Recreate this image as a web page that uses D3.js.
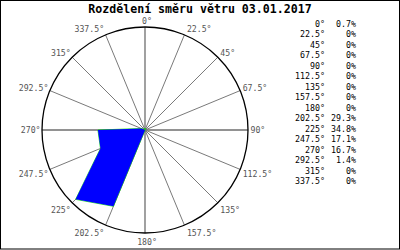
<!DOCTYPE html>
<html>
<head>
<meta charset="utf-8">
<script src="https://cdn.jsdelivr.net/npm/d3@7"></script>
<style>
  body { margin: 0; background: #fff; }
  svg { display: block; }
</style>
</head>
<body>
<script>
// wind direction distribution, one value per 22.5° sector
const directions = [0, 22.5, 45, 67.5, 90, 112.5, 135, 157.5, 180, 202.5, 225, 247.5, 270, 292.5, 315, 337.5];
const dirLabels = ["0°", "22.5°", "45°", "67.5°", "90°", "112.5°", "135°", "157.5°", "180°", "202.5°", "225°", "247.5°", "270°", "292.5°", "315°", "337.5°"];
const percents = [0.7, 0, 0, 0, 0, 0, 0, 0, 0, 29.3, 34.8, 17.1, 16.7, 1.4, 0, 0];
const pctLabels = ["0.7%", "0%", "0%", "0%", "0%", "0%", "0%", "0%", "0%", "29.3%", "34.8%", "17.1%", "16.7%", "1.4%", "0%", "0%"];
const title = "Rozdělení směru větru 03.01.2017";

const width = 400, height = 250;
const cx = 145, cy = 130, R = 103;
const mono = "'DejaVu Sans Mono', 'Liberation Mono', monospace";

const svg = d3.select("body").append("svg")
    .attr("width", width)
    .attr("height", height);

svg.append("rect")
    .attr("x", 0.5).attr("y", 0.5)
    .attr("width", width - 1).attr("height", height - 1.5)
    .attr("fill", "#fff")
    .attr("stroke", "#000");

svg.append("text")
    .attr("x", 200).attr("y", 13)
    .attr("text-anchor", "middle")
    .attr("font-family", mono)
    .attr("font-weight", "bold")
    .attr("font-size", 11.6)
    .text(title);

const angle = d3.scaleLinear().domain([0, 360]).range([0, 2 * Math.PI]);
const r = d3.scaleLinear().domain([0, d3.max(percents) * 1.05]).range([0, R]);

const g = svg.append("g").attr("transform", `translate(${cx},${cy})`);

// spokes
g.selectAll("line.spoke")
    .data(directions)
    .join("line")
    .attr("class", "spoke")
    .attr("x1", 0).attr("y1", 0)
    .attr("x2", d => R * Math.sin(angle(d)))
    .attr("y2", d => -R * Math.cos(angle(d)))
    .attr("stroke", d => d % 90 == 0 ? "#6e6e6e" : "#7a7a7a")
    .attr("stroke-width", d => d % 90 == 0 ? 1.3 : 1);

// data polygon
const radial = d3.lineRadial()
    .angle((d, i) => angle(directions[i]))
    .radius(d => r(d))
    .curve(d3.curveLinearClosed);

g.append("path")
    .datum(percents)
    .attr("d", radial)
    .attr("fill", "none")
    .attr("stroke", "#00dd00")
    .attr("stroke-width", 0.8);

g.append("path")
    .datum(percents)
    .attr("d", radial)
    .attr("fill", "#0000ff");

g.append("circle")
    .attr("r", R)
    .attr("fill", "none")
    .attr("stroke", "#000")
    .attr("stroke-width", 1.3);

// direction labels round the circle
g.selectAll("text.dir")
    .data(directions)
    .join("text")
    .attr("class", "dir")
    .attr("font-family", mono)
    .attr("font-size", 8.2)
    .attr("fill", "#555")
    .attr("dominant-baseline", "central")
    .attr("text-anchor", d => {
        let s = Math.sin(angle(d));
        return Math.abs(s) < 0.01 ? "middle" : (s > 0 ? "start" : "end");
    })
    .attr("x", d => {
        let s = Math.sin(angle(d));
        if (Math.abs(s) < 0.01) return 2;
        return R * s + (s > 0 ? 2.5 : -1.5);
    })
    .attr("y", d => {
        let c = Math.cos(angle(d));
        let dy = -6.6 * c + 0.4;
        if (c < -0.1) dy += 1.8;
        return -R * c + dy;
    })
    .text((d, i) => dirLabels[i]);

// legend table
const row = d3.scaleLinear().domain([0, 15]).range([24, 181]);

svg.selectAll("text.ldir")
    .data(dirLabels)
    .join("text")
    .attr("class", "ldir")
    .attr("x", 325)
    .attr("y", (d, i) => row(i))
    .attr("dominant-baseline", "central")
    .attr("text-anchor", "end")
    .attr("font-family", mono)
    .attr("font-size", 8.3)
    .text(d => d);

svg.selectAll("text.lpct")
    .data(pctLabels)
    .join("text")
    .attr("class", "lpct")
    .attr("x", 356)
    .attr("y", (d, i) => row(i))
    .attr("dominant-baseline", "central")
    .attr("text-anchor", "end")
    .attr("font-family", mono)
    .attr("font-size", 8.3)
    .text(d => d);
</script>
</body>
</html>
